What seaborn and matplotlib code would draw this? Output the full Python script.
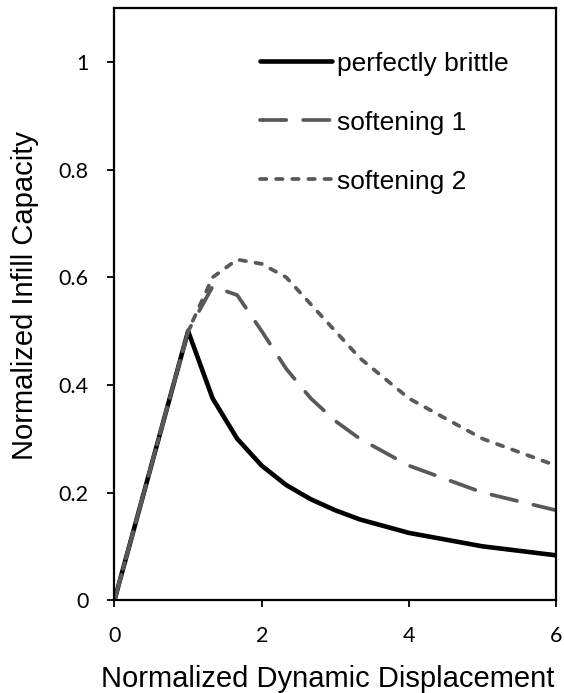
import matplotlib
matplotlib.use("Agg")
import matplotlib.pyplot as plt
import seaborn as sns
import numpy as np

sns.set_theme(style="white")
plt.rcParams['font.family'] = ['Liberation Sans', 'DejaVu Sans']

# data
x_brittle = [0, 1, 1.333, 1.667, 2, 2.333, 2.667, 3, 3.333, 4, 5, 6]
y_brittle = [0, 0.5, 0.375, 0.3, 0.25, 0.214, 0.1875, 0.167, 0.15, 0.125, 0.1, 0.0833]

x_soft1 = [0, 1, 1.333, 1.667, 2, 2.333, 2.667, 3, 3.333, 4, 5, 6]
y_soft1 = [0, 0.5, 0.583, 0.567, 0.5, 0.43, 0.375, 0.333, 0.3, 0.25, 0.2, 0.167]

x_soft2 = [0, 1, 1.333, 1.667, 2, 2.333, 2.667, 3, 3.333, 4, 5, 6]
y_soft2 = [0, 0.5, 0.6, 0.633, 0.625, 0.6, 0.55, 0.5, 0.45, 0.375, 0.3, 0.25]

series_labels = ["perfectly brittle", "softening 1", "softening 2"]
x_ticks = [0, 2, 4, 6]
y_ticks = [0, 0.2, 0.4, 0.6, 0.8, 1]
y_tick_labels = ["0", "0.2", "0.4", "0.6", "0.8", "1"]

fig = plt.figure(figsize=(5.64, 6.93), dpi=100)
ax = fig.add_axes([0.203, 0.134, 0.783, 0.854])

grey = "#595959"
sns.lineplot(x=x_brittle, y=y_brittle, ax=ax, color="black", linewidth=3.3,
             label=series_labels[0], solid_capstyle="round", solid_joinstyle="round")
sns.lineplot(x=x_soft1, y=y_soft1, ax=ax, color=grey, linewidth=2.7,
             linestyle=(0, (7.0, 4.5)), dash_capstyle="round",
             dash_joinstyle="round", label=series_labels[1])
sns.lineplot(x=x_soft2, y=y_soft2, ax=ax, color=grey, linewidth=2.7,
             linestyle=(0, (1.7, 2.6)), dash_capstyle="round",
             dash_joinstyle="round", label=series_labels[2])

ax.set_xlim(0, 6)
ax.set_ylim(0, 1.1)
ax.set_xticks(x_ticks)
ax.set_xticklabels([str(v) for v in x_ticks])
ax.set_yticks(y_ticks)
ax.set_yticklabels(y_tick_labels)

for s in ax.spines.values():
    s.set_visible(True)
    s.set_color("black")
    s.set_linewidth(1.6)

ax.tick_params(axis="both", direction="out", length=5, width=1.3, color="black",
               labelsize=15.5, pad=13.5, labelcolor="black",
               bottom=True, left=True)
for lab in ax.get_xticklabels() + ax.get_yticklabels():
    lab.set_fontfamily(["Lato", "DejaVu Sans"])

ax.set_xlabel("Normalized Dynamic Displacement", fontsize=21, color="black")
ax.set_ylabel("Normalized Infill Capacity", fontsize=21, color="black")
ax.xaxis.set_label_coords(0.482, -0.110)
ax.yaxis.set_label_coords(-0.172, 0.515)

leg = ax.legend(loc="upper left", bbox_to_anchor=(0.329, 0.927), frameon=False,
                fontsize=19, handlelength=2.73, handletextpad=0.19,
                labelspacing=1.33, borderaxespad=0, borderpad=0)
for t in leg.get_texts():
    t.set_color("black")

fig.savefig("out.png", dpi=100)
